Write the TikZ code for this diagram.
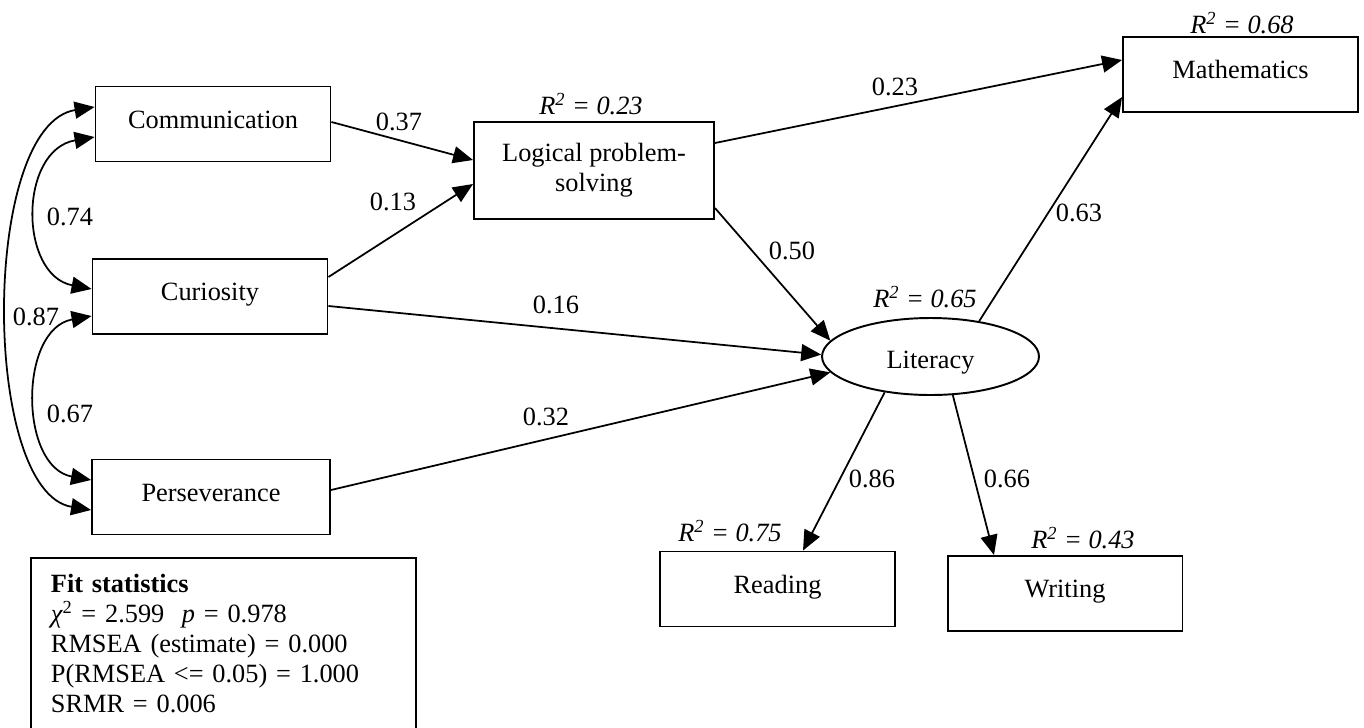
\documentclass[tikz,border=0pt]{standalone}
\usepackage{fontspec}
\setmainfont{Liberation Serif}
\usetikzlibrary{arrows.meta,calc,shapes.geometric}
\begin{document}
\begin{tikzpicture}[x=0.02cm,y=-0.02cm,
  every node/.style={font=\fontsize{15}{17}\selectfont},
  varbox/.style={draw, line width=1.1pt, minimum width=4.7cm, minimum height=1.5cm, inner sep=0pt, text height=0.36cm, text depth=0.2cm},
  arr/.style={line width=1pt, -{Triangle[length=0.4cm,width=0.34cm]}},
  dbl/.style={line width=1pt, {Triangle[length=0.4cm,width=0.34cm]}-{Triangle[length=0.4cm,width=0.34cm]}},
  lab/.style={inner sep=0pt},
  rsq/.style={inner sep=0pt, font=\fontsize{15}{17}\selectfont\itshape}]
\useasboundingbox (0,0) rectangle (1364,727);

% variables
\node[varbox] (comm) at (213,124) {Communication};
\node[varbox] (cur) at (210,296.5) {Curiosity};
\node[varbox, minimum width=4.76cm] (pers) at (211,497) {Perseverance};
\node[draw, line width=1.1pt, inner sep=0pt, minimum width=4.8cm, minimum height=1.94cm, align=center] (lps) at (594,170.5) {Logical problem-\\solving};
\node[varbox] (math) at (1240.5,74.5) {Mathematics};
\node[draw, ellipse, line width=1.1pt, minimum width=4.34cm, minimum height=1.54cm, inner sep=0pt, text height=0.56cm, text depth=0.1cm] (lit) at (930.5,356.5) {Literacy};
\node[varbox] (read) at (777.5,589) {Reading};
\node[varbox] (writ) at (1065,593.5) {Writing};

% R squared
\node[rsq] (r23) at (591,104) {R\textsuperscript{2} = 0.23};
\node[rsq] (r68) at (1242,23) {R\textsuperscript{2} = 0.68};
\node[rsq] (r65) at (925,297) {R\textsuperscript{2} = 0.65};
\node[rsq] (r75) at (730,531) {R\textsuperscript{2} = 0.75};
\node[rsq] (r43) at (1083,538) {R\textsuperscript{2} = 0.43};

% paths
\draw[arr] ($(comm.east)+(0,-2)$) -- ($(lps.west)+(0,-10.5)$);
\draw[arr] ($(cur.east)+(0,-19.5)$) -- ($(lps.west)+(0,13.5)$);
\draw[arr] ($(cur.east)+(0,9.5)$) -- (lit.179);
\draw[arr] ($(pers.east)+(0,-7)$) -- (lit.189);
\draw[arr] ($(lps.east)+(0,37.5)$) -- (lit.171);
\draw[arr] ($(lps.east)+(0,-27.5)$) -- ($(math.west)+(0,-14.5)$);
\draw[arr] (lit.36) -- ($(math.west)+(0,22.5)$);
\draw[arr] (lit.218) -- ($(read.north)+(25.5,0)$);
\draw[arr] (lit.-60) -- ($(writ.north)+(-71,0)$);

% covariances
\draw[dbl] ($(comm.west)+(0,13)$) .. controls +(-76,13) and +(-73,-14) .. ($(cur.west)+(0,-7.5)$);
\draw[dbl] ($(cur.west)+(0,19.5)$) .. controls +(-73,13) and +(-72,-13) .. ($(pers.west)+(0,-17)$);
\draw[dbl] ($(comm.west)+(0,-17)$) .. controls +(-114,18) and +(-110,-18) .. ($(pers.west)+(0,13)$);

% coefficient labels
\node[lab] (l37) at (399,122) {0.37};
\node[lab] (l13) at (393,202) {0.13};
\node[lab] (l16) at (556,305) {0.16};
\node[lab] (l32) at (546,417) {0.32};
\node[lab] (l50) at (792,251) {0.50};
\node[lab] (l23) at (895,87) {0.23};
\node[lab] (l63) at (1079,213) {0.63};
\node[lab] (l86) at (872,479) {0.86};
\node[lab] (l66) at (1007,479) {0.66};
\node[lab] (l74) at (70,217) {0.74};
\node[lab] (l67) at (70,414) {0.67};
\node[lab] (l87) at (36,317) {0.87};

% fit statistics
\node[draw, line width=1.1pt, anchor=north west, text width=6.9cm, inner xsep=0.4cm, inner ysep=0.33cm, align=left] (fit) at (30,557)
  {\textbf{Fit statistics}\\
   {\itshape χ}\textsuperscript{2} = 2.599\ \ \textit{p} = 0.978\\
   RMSEA (estimate) = 0.000\\
   P(RMSEA <= 0.05) = 1.000\\
   SRMR = 0.006\strut};
\end{tikzpicture}
\end{document}
